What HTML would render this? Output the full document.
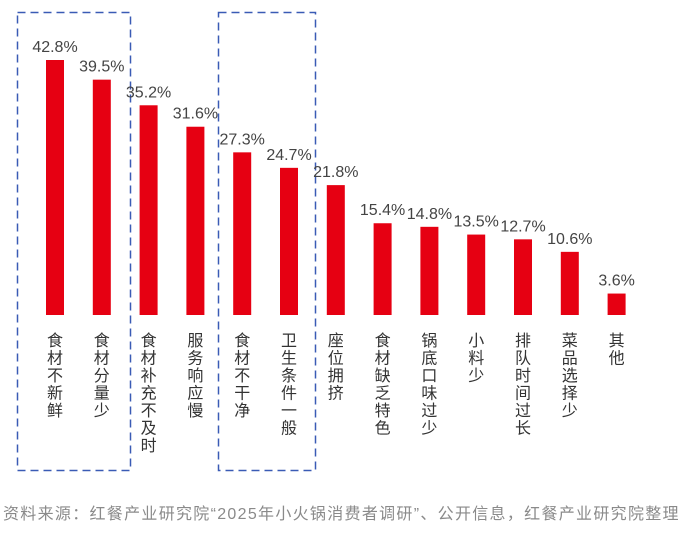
<!DOCTYPE html>
<html><head><meta charset="utf-8"><style>
body{margin:0;background:#fff;}
#c{position:relative;width:690px;height:533px;overflow:hidden;font-family:"Liberation Sans","Noto Sans CJK SC",sans-serif;}
.src{position:absolute;left:3px;top:500px;font-size:16px;letter-spacing:1.3px;color:#8a8a8a;white-space:nowrap;}
</style></head><body>
<div id="c">
<svg id="s" width="690" height="533">
<rect x="17.5" y="12.5" width="113" height="458" fill="none" stroke="#3a5bb5" stroke-width="1.5" stroke-dasharray="8,5"/>
<rect x="218.5" y="12.5" width="97" height="458" fill="none" stroke="#3a5bb5" stroke-width="1.5" stroke-dasharray="8,5"/>
</svg>
<div class="src">资料来源：红餐产业研究院“2025年小火锅消费者调研”、公开信息，红餐产业研究院整理</div>
</div>
<script>
const categories=["食材不新鲜","食材分量少","食材补充不及时","服务响应慢","食材不干净","卫生条件一般","座位拥挤","食材缺乏特色","锅底口味过少","小料少","排队时间过长","菜品选择少","其他"];
const values=[42.8,39.5,35.2,31.6,27.3,24.7,21.8,15.4,14.8,13.5,12.7,10.6,3.6];
const valueLabels=["42.8%","39.5%","35.2%","31.6%","27.3%","24.7%","21.8%","15.4%","14.8%","13.5%","12.7%","10.6%","3.6%"];
const svg=document.getElementById('s');const NS="http://www.w3.org/2000/svg";
const base=315,pxPer=255/42.8,x0=55,step=46.8,bw=18;
const xs=i=>x0+i*step; const ys=v=>base-v*pxPer;
categories.forEach((cat,i)=>{
 const cx=xs(i);
 const r=document.createElementNS(NS,'rect');
 r.setAttribute('x',cx-bw/2);r.setAttribute('y',ys(values[i]));r.setAttribute('width',bw);r.setAttribute('height',base-ys(values[i]));r.setAttribute('fill','#e60012');
 
 
 svg.appendChild(r);
 const t=document.createElementNS(NS,'text');
 t.setAttribute('x',cx);t.setAttribute('y',ys(values[i])-8);t.setAttribute('text-anchor','middle');t.setAttribute('font-size','16');t.setAttribute('fill','#444');t.textContent=valueLabels[i];
 
 
 svg.appendChild(t);
 [...cat].forEach((ch,j)=>{
  const c=document.createElementNS(NS,'text');
  c.setAttribute('x',cx);c.setAttribute('y',346+j*17.5);c.setAttribute('text-anchor','middle');c.setAttribute('font-size','16');c.setAttribute('fill','#333');c.textContent=ch;
  
  
  svg.appendChild(c);
 });
});
</script>
</body></html>
